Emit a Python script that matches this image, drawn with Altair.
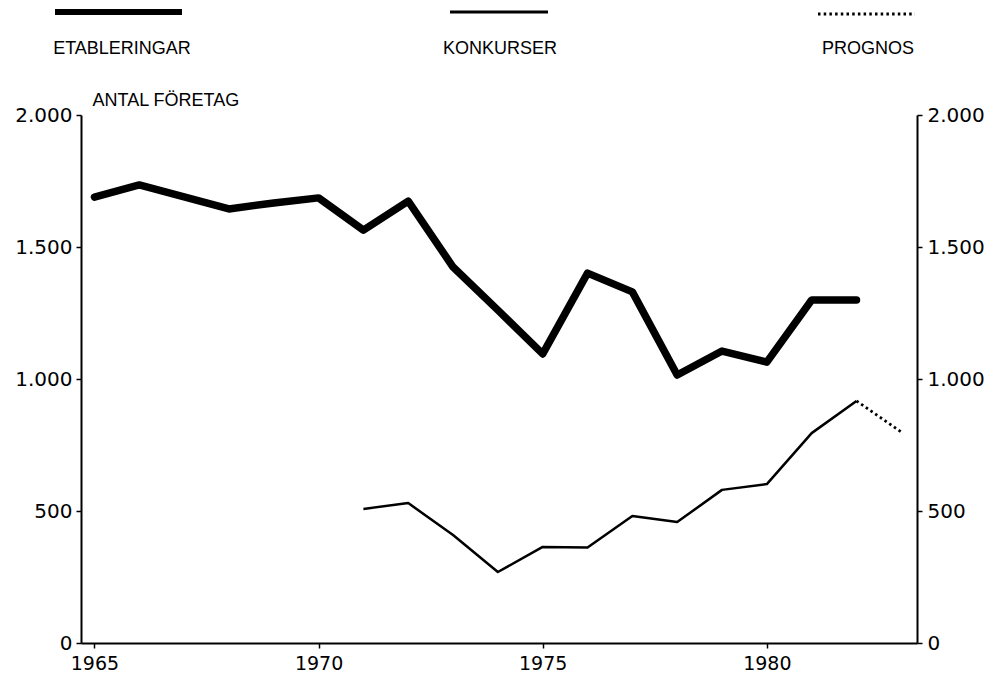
import altair as alt
import pandas as pd

# ---- data ----
years_etab = list(range(1965, 1983))
etableringar = [1689, 1735, 1690, 1644, 1667, 1686, 1564, 1674, 1424, 1261,
                1095, 1401, 1330, 1015, 1106, 1064, 1299, 1299]
years_konk = list(range(1971, 1983))
konkurser = [508, 530, 409, 269, 364, 362, 481, 458, 580, 602, 795, 917]
years_prog = [1982, 1983]
prognos = [917, 799]
x_ticks = [1965, 1970, 1975, 1980]
y_ticks = [0, 500, 1000, 1500, 2000]

df_e = pd.DataFrame({"year": years_etab, "value": etableringar})
df_k = pd.DataFrame({"year": years_konk, "value": konkurser})
df_p = pd.DataFrame({"year": years_prog, "value": prognos})

FONT = "DejaVu Sans"
LFONT = "Liberation Sans"
label_expr = "replace(format(datum.value, ','), ',', '.')"

xenc = alt.X("year:Q",
             scale=alt.Scale(domain=[1964.7, 1983.35], nice=False, zero=False),
             axis=alt.Axis(values=x_ticks, format="d", title=None, grid=False,
                           tickSize=5, tickColor="black", tickWidth=1.5,
                           domainColor="black", domainWidth=2,
                           labelFont=FONT, labelFontSize=19, labelColor="black",
                           labelPadding=6))

yscale = alt.Scale(domain=[0, 2000], nice=False)
yleft = alt.Y("value:Q", scale=yscale,
              axis=alt.Axis(values=y_ticks, labelExpr=label_expr, grid=False,
                            title="ANTAL FÖRETAG", titleAngle=0, titleAlign="left",
                            titleBaseline="bottom", titleX=11, titleY=-6,
                            titleFont=LFONT, titleFontSize=18, titleFontWeight="normal",
                            titleColor="black",
                            tickSize=5, tickColor="black", tickWidth=1.5,
                            domainColor="black", domainWidth=2,
                            labelFont=FONT, labelFontSize=20, labelColor="black",
                            labelPadding=4))
yright = alt.Y("value:Q", scale=yscale,
               axis=alt.Axis(orient="right", values=y_ticks, labelExpr=label_expr,
                             grid=False, title=None,
                             tickSize=5, tickColor="black", tickWidth=1.5,
                             domainColor="black", domainWidth=2,
                             labelFont=FONT, labelFontSize=20, labelColor="black",
                             labelPadding=5))

etab_line = alt.Chart(df_e).mark_line(color="black", strokeWidth=7.5,
                                      strokeCap="round", strokeJoin="round").encode(x=xenc, y=yleft)
konk_line = alt.Chart(df_k).mark_line(color="black", strokeWidth=2.5,
                                      strokeJoin="round").encode(x=xenc, y=yleft)
prog_line = alt.Chart(df_p).mark_line(color="black", strokeWidth=2.8,
                                      strokeDash=[2.5, 3.2]).encode(x=xenc, y=yleft)
right_axis = alt.Chart(df_k).mark_line(opacity=0).encode(x=xenc, y=yright)

left = alt.layer(etab_line, konk_line, prog_line)

# ---- custom legend (symbol above label) ----
one = alt.Data(values=[{}])
def leg_rule(x1, x2, y, w, dash=None):
    kw = dict(color="black", strokeWidth=w)
    if dash:
        kw["strokeDash"] = dash
    return alt.Chart(one).mark_rule(**kw).encode(
        x=alt.value(x1), x2=alt.value(x2), y=alt.value(y))

def leg_text(x, y, t):
    return alt.Chart(one).mark_text(font=LFONT, fontSize=18, color="black",
                                    align="center", baseline="middle").encode(
        x=alt.value(x), y=alt.value(y), text=alt.value(t))

legend = alt.layer(
    leg_rule(-26, 101, -103, 6),
    leg_rule(369, 467, -103, 3),
    leg_rule(737, 834, -101, 2.8, [2.5, 3.2]),
    leg_text(41, -66, "ETABLERINGAR"),
    leg_text(419, -66, "KONKURSER"),
    leg_text(787, -66, "PROGNOS"),
)

chart = alt.layer(left, right_axis, legend).resolve_scale(y="independent").properties(
    width=836, height=528,
    autosize=alt.AutoSizeParams(type="none"),
    padding={"left": 73, "top": 107, "right": 70, "bottom": 40},
    background="white",
).configure_view(stroke=None)

chart.save("out.html", embed_options={"renderer": "svg", "actions": False})
